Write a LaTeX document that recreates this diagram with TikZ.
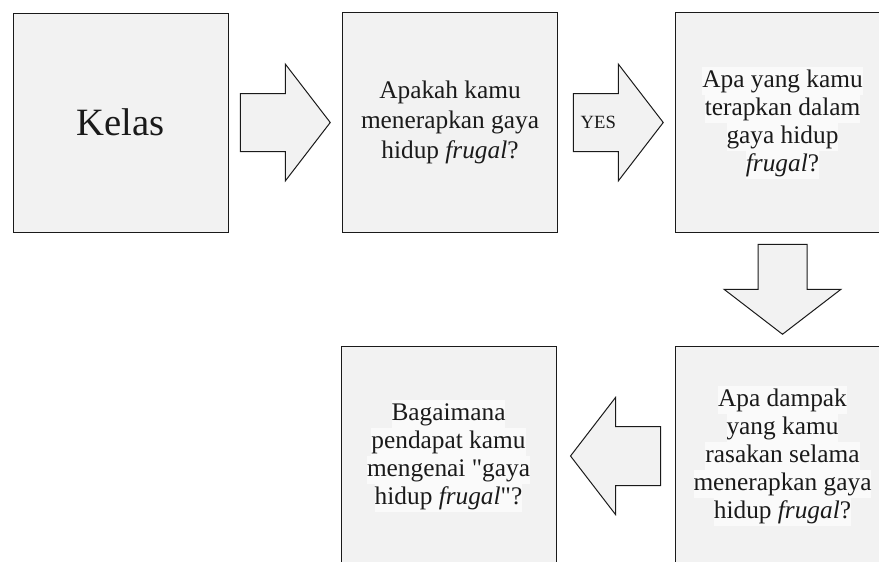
\documentclass[tikz,border=0pt]{standalone}
\usepackage{fontspec}
\setmainfont{Liberation Serif}
\usetikzlibrary{calc}
\definecolor{BoxGray}{HTML}{F2F2F2}
\definecolor{HiLite}{HTML}{FAFAFA}
\definecolor{Ink}{HTML}{1A1A1A}
\newcommand{\Hl}[1]{{\setlength{\fboxsep}{0pt}\colorbox{HiLite}{\rule[-5.5pt]{0pt}{21pt}#1}}}
\NewDocumentCommand{\BlockArrow}{O{(0,0)} m m}{
    \begin{scope}[shift={#1}, rotate=#2]
    \draw[Ink, line width=0.75pt, fill=BoxGray, line join=miter]
        (-45,-#3) -- (0,-#3) -- (0,-58.5) -- (45,0) -- (0,58.5) -- (0,#3) -- (-45,#3) -- cycle;
    \end{scope}
}
\begin{document}
\begin{tikzpicture}[x=0.75pt, y=-0.75pt,
    qbox/.style={draw=Ink, line width=0.75pt, fill=BoxGray, text=Ink, align=center,
        minimum width=161.25pt, minimum height=165pt, inner sep=0pt},
    qtext/.style={font=\fontsize{19}{21}\selectfont}]
\clip (0,0) rectangle (879,561);

\node[qbox, minimum height=164.25pt, font=\fontsize{29}{34}\selectfont] (kelas) at (120.5,122.5) {Kelas};
\node[qbox, font=\fontsize{19}{22.5}\selectfont] (tanya1) at (450,122.5)
    {Apakah kamu\\menerapkan gaya\\hidup \textit{frugal}?};
\node[qbox, qtext] (tanya2) at (782.5,122.5)
    {\Hl{Apa yang kamu}\\\Hl{terapkan dalam}\\\Hl{gaya hidup}\\\Hl{\textit{frugal}?}};
\node[qbox, qtext] (tanya3) at (782.5,456)
    {\Hl{Apa dampak}\\\Hl{yang kamu}\\\Hl{rasakan selama}\\\Hl{menerapkan gaya}\\\Hl{hidup \textit{frugal}?}};
\node[qbox, qtext] (tanya4) at (448.5,456)
    {\Hl{Bagaimana}\\\Hl{pendapat kamu}\\\Hl{mengenai \textquotedbl gaya}\\\Hl{hidup \textit{frugal}\textquotedbl?}};

\coordinate (arr1) at ($(kelas.east)!0.5!(tanya1.west)$);
\coordinate (arr2) at ($(tanya1.east)!0.5!(tanya2.west)+(2,0)$);
\coordinate (arr3) at ($(tanya2.south)!0.5!(tanya3.north)$);
\coordinate (arr4) at ($(tanya3.west)!0.5!(tanya4.east)$);

\BlockArrow[(arr1)]{0}{29}
\BlockArrow[(arr2)]{0}{29}
\BlockArrow[(arr3)]{-90}{24.5}
\BlockArrow[(arr4)]{180}{29.5}

\node[text=Ink, font=\fontsize{14}{16}\selectfont, inner sep=0pt] (yes) at ($(arr2)+(-20,0)$) {YES};

\end{tikzpicture}
\end{document}
